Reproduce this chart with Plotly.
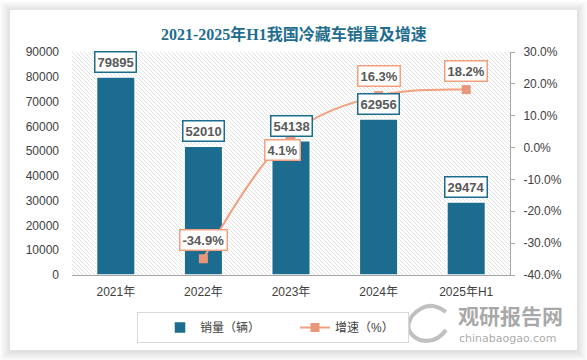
import plotly.graph_objects as go

categories = ["2021年", "2022年", "2023年", "2024年", "2025年H1"]
sales = [79895, 52010, 54138, 62956, 29474]
growth = [None, -34.9, 4.1, 16.3, 18.2]
growth_labels = [None, "-34.9%", "4.1%", "16.3%", "18.2%"]
left_ticks = [0, 10000, 20000, 30000, 40000, 50000, 60000, 70000, 80000, 90000]
right_ticks = [-40, -30, -20, -10, 0, 10, 20, 30]
right_ticktext = ["-40.0%", "-30.0%", "-20.0%", "-10.0%", "0.0%", "10.0%", "20.0%", "30.0%"]

W, H = 587, 360
L, R, T, B = 72, 510, 52, 275
PW, PH = R - L, B - T

def px(x):
    return (x - L) / PW

def py(y):
    return (B - y) / PH

BAR = "#1B6C8F"
LINE = "#F2A07E"
MARK = "#E8977A"
FONT = "Liberation Sans, Arial, Noto Sans CJK SC, sans-serif"

fig = go.Figure()

# invisible trace to anchor base subplot
fig.add_trace(go.Scatter(x=[0, 1], y=[0, 1], xaxis="x", yaxis="y", mode="markers",
                         marker=dict(opacity=0), hoverinfo="skip", showlegend=False))

fig.add_trace(go.Bar(
    x=categories, y=sales, xaxis="x2", yaxis="y2", name="销量（辆）",
    width=0.44, marker=dict(color=BAR, line=dict(color="white", width=1.5))))

fig.add_trace(go.Scatter(
    x=categories, y=growth, xaxis="x2", yaxis="y3", name="增速（%）",
    mode="lines+markers", line=dict(color=LINE, width=2, shape="spline"),
    marker=dict(symbol="square", size=9, color=MARK)))

annotations = []
for c, v in zip(categories, sales):
    annotations.append(dict(
        x=c, y=v, xref="x2", yref="y2", text=f"<b>{v}</b>", showarrow=False,
        yanchor="bottom", yshift=4, font=dict(family=FONT, size=13, color="#595959"),
        bgcolor="white", bordercolor=BAR, borderwidth=1.5, borderpad=2))

offsets = {1: (0, 8, "bottom"), 2: (-9, -15, "middle"), 3: (0, 9, "bottom"), 4: (0, 8, "bottom")}
for i, (c, v, t) in enumerate(zip(categories, growth, growth_labels)):
    if v is None:
        continue
    xs, ys, ya = offsets[i]
    annotations.append(dict(
        x=c, y=v, xref="x2", yref="y3", text=f"<b>{t}</b>", showarrow=False,
        xshift=xs, yshift=ys, yanchor=ya, font=dict(family=FONT, size=13, color="#595959"),
        bgcolor="white", bordercolor=LINE, borderwidth=1.5, borderpad=2))

# title
annotations.append(dict(
    x=px(294), y=py(33.5), xref="paper", yref="paper", showarrow=False,
    xanchor="center", yanchor="middle",
    text="<b>2021-2025年H1我国冷藏车销量及增速</b>",
    font=dict(family="Liberation Serif, Noto Sans CJK SC, serif", size=16, color="#1F6E8F")))

# watermark
annotations.append(dict(
    x=px(510), y=py(315), xref="paper", yref="paper", showarrow=False,
    xanchor="center", yanchor="middle",
    text="<b>观研报告网</b>",
    font=dict(family="Noto Sans CJK SC, sans-serif", size=21, color="rgba(140,140,140,0.75)")))
annotations.append(dict(
    x=px(508), y=py(338), xref="paper", yref="paper", showarrow=False,
    xanchor="center", yanchor="middle",
    text="chinabaogao.com",
    font=dict(family="DejaVu Sans, sans-serif", size=11, color="rgba(140,140,140,0.75)")))

shapes = []
for i in range(1, 11):
    shapes.append(dict(type="rect", xref="paper", yref="paper", layer="below",
                       x0=px(10 - i), x1=px(577 + i), y0=py(350 + i + 1), y1=py(10 - i + 1),
                       line=dict(width=0), fillcolor="rgba(0,0,0,0.012)"))
shapes.append(dict(type="rect", xref="paper", yref="paper", layer="below",
                   x0=px(10), x1=px(577), y0=py(350), y1=py(10),
                   line=dict(width=0), fillcolor="white"))

# hatch pattern for the plot area (diagonal lines, clipped to the subplot)
step = 4
segs = []
k = -PH // step - 1
while k * step <= PW:
    x_top = k * step
    x_bot = x_top + PH
    segs.append(f"M{x_top / PW:.5f},1 L{x_bot / PW:.5f},0")
    k += 1
shapes.append(dict(type="path", xref="x", yref="y", layer="below", path=" ".join(segs),
                   line=dict(color="#E2E2E2", width=1)))

# watermark logo (simple swirl)
shapes.append(dict(type="path", xref="paper", yref="paper", layer="above",
                   path=f"M {px(446)},{py(312)} Q {px(428)},{py(298)} {px(412)},{py(316)} "
                        f"Q {px(402)},{py(332)} {px(420)},{py(340)} Q {px(436)},{py(344)} {px(446)},{py(330)}",
                   line=dict(color="rgba(150,150,150,0.6)", width=4)))

fig.update_layout(
    width=W, height=H, autosize=False,
    margin=dict(l=L, r=W - R, t=T, b=H - B, pad=0, autoexpand=False),
    paper_bgcolor="white", plot_bgcolor="rgba(0,0,0,0)",
    font=dict(family=FONT, size=12, color="#404040"),
    barmode="overlay",
    xaxis=dict(domain=[0, 1], range=[0, 1], visible=False, fixedrange=True),
    yaxis=dict(domain=[0, 1], range=[0, 1], visible=False, fixedrange=True),
    xaxis2=dict(overlaying="x", type="category", showline=True, linecolor="#A6A6A6", linewidth=1,
                ticks="", showgrid=False, tickfont=dict(size=12, color="#404040"), ticklabelstandoff=6),
    yaxis2=dict(overlaying="y", side="left", range=[0, 90000], tickvals=left_ticks,
                tickformat="d", showgrid=False, zeroline=False, showline=False, ticks="",
                tickfont=dict(size=12, color="#404040"), ticklabelstandoff=12),
    yaxis3=dict(overlaying="y", side="right", range=[-40, 30], tickvals=right_ticks,
                ticktext=right_ticktext, showgrid=False, zeroline=False, showline=True,
                linecolor="#A6A6A6", ticks="outside", ticklen=4, tickcolor="#A6A6A6",
                tickfont=dict(size=12, color="#404040"), ticklabelstandoff=6),
    legend=dict(orientation="h", x=px(137), y=py(312), xanchor="left", yanchor="top",
                bordercolor="#D9D9D9", borderwidth=1, bgcolor="white",
                font=dict(family=FONT, size=12, color="#404040"), entrywidth=68,
                itemwidth=30, indentation=22),
    annotations=annotations, shapes=shapes,
)

fig.write_html("out.html", config={"displayModeBar": False},
               post_script="document.body.style.margin='0';")
